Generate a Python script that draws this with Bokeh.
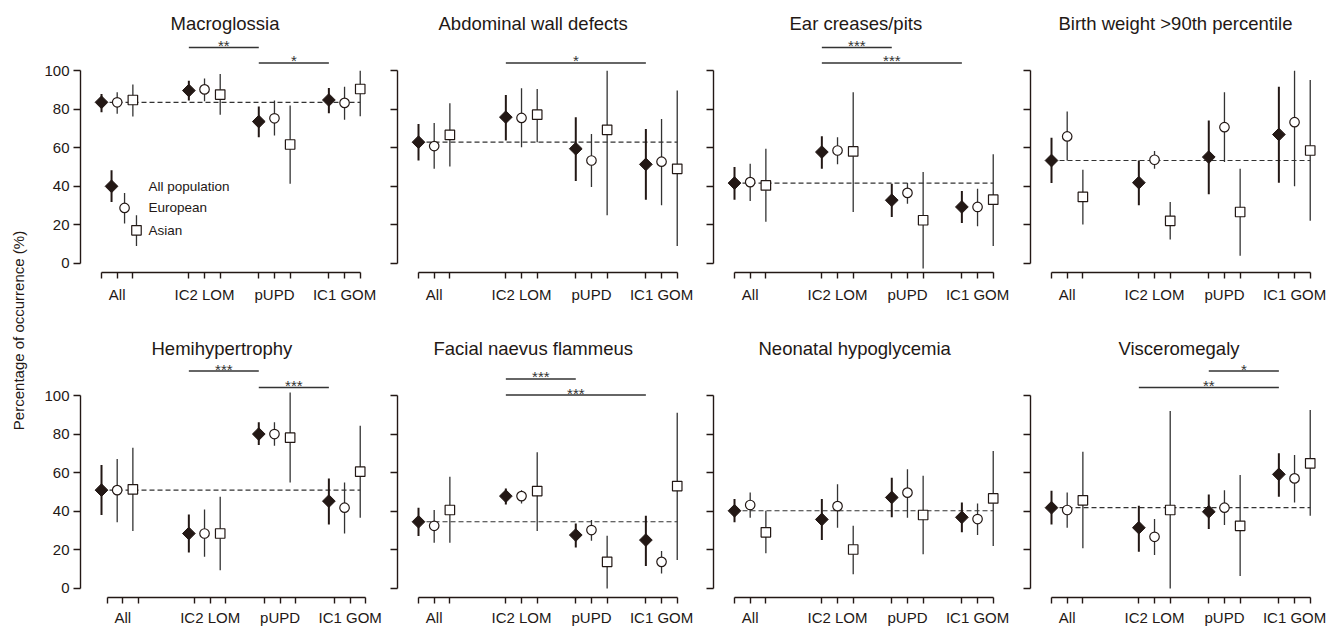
from math import pi
from bokeh.plotting import figure
from bokeh.layouts import row, column
from bokeh.models import ColumnDataSource, FixedTicker, Range1d, Label
from bokeh.core.properties import value
from bokeh.embed import file_html
from bokeh.resources import INLINE

FONT = "Liberation Sans"
INK = "#231815"
BAR_INK = "#333333"

# ---------------- data ----------------
populations = ["All population", "European", "Asian"]
groups = ["All", "IC2 LOM", "pUPD", "IC1 GOM"]
titles = ["Macroglossia", "Abdominal wall defects", "Ear creases/pits",
          "Birth weight >90th percentile", "Hemihypertrophy",
          "Facial naevus flammeus", "Neonatal hypoglycemia", "Visceromegaly"]

# order inside each list: [All: all, Eur, Asian, IC2 LOM: all, Eur, Asian, pUPD: ..., IC1 GOM: ...]
macro_val = [83.6, 83.6, 84.8, 89.7, 90.3, 87.6, 73.6, 75.3, 61.7, 84.8, 83.3, 90.5]
macro_lo = [78.4, 77.6, 76.2, 84.5, 84.1, 77.2, 65.5, 66.4, 41.4, 77.9, 74.5, 76.4]
macro_hi = [87.9, 88.8, 92.8, 94.8, 95.9, 98.3, 81.4, 84.5, 81.9, 91.0, 91.7, 100.0]
macro_sig = [(1, 2, 112.1, "**"), (2, 3, 104.0, "*")]

abd_val = [62.9, 60.9, 66.7, 75.9, 75.5, 77.2, 59.5, 53.4, 69.3, 51.4, 52.8, 49.1]
abd_lo = [53.4, 49.1, 50.3, 63.8, 60.3, 62.9, 42.8, 39.7, 25.0, 33.1, 30.2, 9.0]
abd_hi = [72.4, 72.9, 83.1, 87.4, 90.9, 90.5, 75.9, 67.2, 100.0, 69.8, 75.0, 89.7]
abd_sig = [(1, 3, 104.0, "*")]

ear_val = [41.7, 42.2, 40.5, 57.8, 58.6, 58.1, 32.8, 36.6, 22.4, 29.3, 29.3, 33.1]
ear_lo = [33.1, 32.4, 21.6, 49.1, 51.4, 26.7, 24.1, 31.0, -2.6, 21.0, 19.3, 9.0]
ear_hi = [50.0, 51.7, 59.5, 66.0, 65.5, 88.8, 41.4, 41.7, 47.4, 37.6, 38.8, 56.6]
ear_sig = [(1, 2, 112.1, "***"), (1, 3, 104.0, "***")]

bw_val = [53.4, 65.9, 34.5, 41.9, 53.8, 22.1, 55.2, 70.7, 26.7, 66.9, 73.3, 58.6]
bw_lo = [41.7, 53.4, 20.2, 30.2, 49.1, 12.4, 35.9, 52.6, 4.0, 41.9, 40.0, 22.1]
bw_hi = [65.2, 78.8, 48.6, 53.4, 58.3, 31.9, 74.1, 88.8, 49.1, 91.7, 100.0, 95.2]
bw_sig = []

hemi_val = [51.0, 51.0, 51.4, 28.5, 28.5, 28.5, 80.1, 80.1, 78.2, 45.3, 41.9, 60.6]
hemi_lo = [38.1, 34.3, 29.8, 18.7, 16.4, 9.5, 74.4, 74.0, 55.0, 33.2, 28.5, 36.7]
hemi_hi = [64.0, 67.1, 73.0, 38.4, 41.0, 47.6, 86.2, 86.2, 101.6, 57.1, 55.0, 84.4]
hemi_sig = [(1, 2, 112.8, "***"), (2, 3, 104.3, "***")]

fnf_val = [34.6, 32.5, 40.7, 47.9, 47.9, 50.5, 27.7, 30.3, 13.8, 25.1, 13.8, 53.1]
fnf_lo = [27.2, 23.7, 23.7, 43.6, 44.1, 29.8, 21.3, 24.7, 0.0, 11.6, 7.8, 14.7]
fnf_hi = [41.9, 40.7, 58.0, 51.9, 51.0, 70.6, 33.7, 35.5, 27.3, 37.7, 19.4, 91.2]
fnf_sig = [(1, 2, 108.7, "***"), (1, 3, 100.3, "***")]

neo_val = [40.3, 43.3, 29.1, 35.8, 42.7, 20.2, 47.2, 49.7, 38.1, 36.9, 36.0, 46.7]
neo_lo = [34.3, 36.7, 18.2, 25.1, 31.5, 7.4, 36.9, 36.7, 17.8, 29.1, 27.7, 22.0]
neo_hi = [46.4, 49.8, 40.3, 46.4, 54.0, 32.5, 57.4, 61.9, 58.5, 44.6, 44.1, 71.3]
neo_sig = []

visc_val = [41.9, 40.7, 45.7, 31.5, 26.8, 40.7, 39.8, 41.9, 32.5, 59.2, 57.1, 64.9]
visc_lo = [33.2, 31.5, 20.8, 19.0, 17.3, 0.0, 30.8, 32.9, 6.4, 47.6, 44.6, 37.7]
visc_hi = [50.7, 49.8, 70.9, 42.9, 36.0, 92.0, 48.8, 51.0, 58.8, 70.1, 69.2, 92.6]
visc_sig = [(2, 3, 112.8, "*"), (1, 3, 104.3, "**")]

# legend sample (drawn inside first panel)
legend_val = [40.0, 28.8, 17.2]
legend_lo = [31.9, 20.7, 9.0]
legend_hi = [48.3, 36.6, 25.0]

# ---------------- layout constants ----------------
GROUP_X = [0.0, 5.57, 10.03, 14.5]
POP_DX = [0.0, 1.0, 2.0]
XPOS = [round(g + d, 2) for g in GROUP_X for d in POP_DX]
LEGEND_X = [0.64, 1.47, 2.23]
LEGEND_TEXT_X = 3.0
Y_TICKS = [0, 20, 40, 60, 80, 100]


def style_markers(p, xs, vals, lows, highs):
    # error bars first, markers on top
    for k in range(3):
        src = ColumnDataSource(dict(x=xs[k::3], lo=lows[k::3], hi=highs[k::3]))
        if k == 0:
            p.segment(x0="x", y0="lo", x1="x", y1="hi", source=src, line_color=INK, line_width=2.0)
        else:
            p.segment(x0="x", y0="lo", x1="x", y1="hi", source=src, line_color=BAR_INK, line_width=1.3)
    for k in range(3):
        src = ColumnDataSource(dict(x=xs[k::3], v=vals[k::3]))
        if k == 0:
            p.scatter(x="x", y="v", source=src, marker="square", angle=pi / 4, size=9,
                      fill_color=INK, line_color=INK, line_width=1)
        elif k == 1:
            p.scatter(x="x", y="v", source=src, marker="circle", size=9.5,
                      fill_color="white", line_color=INK, line_width=1.2)
        else:
            p.scatter(x="x", y="v", source=src, marker="square", size=9.5,
                      fill_color="white", line_color=INK, line_width=1.2)


def make_panel(title, vals, lows, highs, sigs, left, right, top, bottom, title_offset,
               ylabels=False, tick_shift=0.0, label_standoff=7, legend=False):
    p = figure(frame_width=286, frame_height=239,
               x_range=Range1d(-1.34, 16.90), y_range=Range1d(-4.7, 119.3),
               output_backend="svg", toolbar_location=None, title=title,
               min_border_left=left, min_border_right=right,
               min_border_top=top, min_border_bottom=bottom,
               outline_line_color=None, background_fill_color="white",
               border_fill_color="white")
    p.title.align = "left"
    p.title.offset = title_offset
    p.title.text_font = FONT
    p.title.text_font_size = "18.5px"
    p.title.text_font_style = "normal"
    p.title.text_color = INK
    p.title.standoff = 0
    p.grid.visible = False

    # x axis: a tick per marker, the group name under the middle tick
    ticks = [round(x + tick_shift, 2) for x in XPOS]
    xa = p.xaxis[0]
    xa.ticker = FixedTicker(ticks=ticks)
    xa.bounds = (ticks[0], ticks[-1])
    xa.major_label_overrides = {t: (groups[i // 3] if i % 3 == 1 else "") for i, t in enumerate(ticks)}
    xa.major_label_text_font = FONT
    xa.major_label_text_font_size = "15px"
    xa.major_label_text_color = INK
    xa.major_label_standoff = label_standoff
    xa.major_tick_in = 0
    xa.major_tick_out = 6
    xa.minor_tick_line_color = None
    xa.axis_line_width = 1.4
    xa.axis_line_color = INK
    xa.major_tick_line_width = 1.4
    xa.major_tick_line_color = INK

    # y axis
    ya = p.yaxis[0]
    ya.ticker = FixedTicker(ticks=Y_TICKS)
    ya.bounds = (0, 100)
    ya.major_tick_in = 0
    ya.major_tick_out = 7
    ya.minor_tick_line_color = None
    ya.axis_line_width = 1.4
    ya.axis_line_color = INK
    ya.major_tick_line_width = 1.4
    ya.major_tick_line_color = INK
    ya.major_label_text_font = FONT
    ya.major_label_text_color = INK
    ya.major_label_text_font_size = "15px"
    if ylabels:
        ya.major_label_standoff = 4
    else:
        ya.major_label_overrides = {t: "" for t in Y_TICKS}
        ya.major_label_standoff = 0

    # reference (overall) dashed line
    p.line(x=[XPOS[0], XPOS[-1]], y=[vals[0], vals[0]], line_dash="5 3",
           line_color=BAR_INK, line_width=1.2)

    # significance bars
    if sigs:
        x0 = [XPOS[3 * a] for a, b, lev, s in sigs]
        x1 = [XPOS[3 * b] for a, b, lev, s in sigs]
        lev = [s[2] for s in sigs]
        stars = [s[3] for s in sigs]
        mid = [(u + w) / 2 for u, w in zip(x0, x1)]
        p.segment(x0=x0, y0=lev, x1=x1, y1=lev, line_color=BAR_INK, line_width=1.5)
        p.text(x=mid, y=lev, text=stars, text_align="center", text_baseline="alphabetic",
               y_offset=-2, text_font=value(FONT), text_font_size="15px", text_color=BAR_INK)

    style_markers(p, XPOS, vals, lows, highs)

    if legend:
        style_markers(p, LEGEND_X, legend_val, legend_lo, legend_hi)
        p.text(x=[LEGEND_TEXT_X] * 3, y=legend_val, text=populations,
               text_align="left", text_baseline="middle",
               text_font=value(FONT), text_font_size="13.5px", text_color=INK)
    return p


TOP_T, TOP_B = 33, 62
BOT_T, BOT_B = 24, 29

p1 = make_panel(titles[0], macro_val, macro_lo, macro_hi, macro_sig, 40, 11, TOP_T, TOP_B, 90, ylabels=True, legend=True)
p2 = make_panel(titles[1], abd_val, abd_lo, abd_hi, abd_sig, 20, 10, TOP_T, TOP_B, 41)
p3 = make_panel(titles[2], ear_val, ear_lo, ear_hi, ear_sig, 20, 11, TOP_T, TOP_B, 76)
p4 = make_panel(titles[3], bw_val, bw_lo, bw_hi, bw_sig, 20, 12, TOP_T, TOP_B, 28)

p5 = make_panel(titles[4], hemi_val, hemi_lo, hemi_hi, hemi_sig, 40, 17, BOT_T, BOT_B, 71,
                ylabels=True, tick_shift=0.36, label_standoff=5)
p6 = make_panel(titles[5], fnf_val, fnf_lo, fnf_hi, fnf_sig, 14, 10, BOT_T, BOT_B, 36, label_standoff=5)
p7 = make_panel(titles[6], neo_val, neo_lo, neo_hi, neo_sig, 20, 11, BOT_T, BOT_B, 45, label_standoff=5)
p8 = make_panel(titles[7], visc_val, visc_lo, visc_hi, visc_sig, 20, 12, BOT_T, BOT_B, 88, label_standoff=5)

TOTAL_H = TOP_T + 239 + TOP_B + BOT_T + 239 + BOT_B

# shared y-axis label
ylab = figure(width=40, height=TOTAL_H, x_range=Range1d(0, 40), y_range=Range1d(0, TOTAL_H),
              output_backend="svg", toolbar_location=None,
              x_axis_location=None, y_axis_location=None,
              min_border=0, outline_line_color=None)
ylab.grid.visible = False
ylab.add_layout(Label(x=18, y=TOTAL_H - 330, text="Percentage of occurrence (%)", angle=pi / 2,
                      text_align="center", text_baseline="middle",
                      text_font=FONT, text_font_size="15px", text_color=INK))

layout = row(ylab, column(row(p1, p2, p3, p4), row(p5, p6, p7, p8)))

open("out.html", "w").write(file_html(layout, INLINE))
